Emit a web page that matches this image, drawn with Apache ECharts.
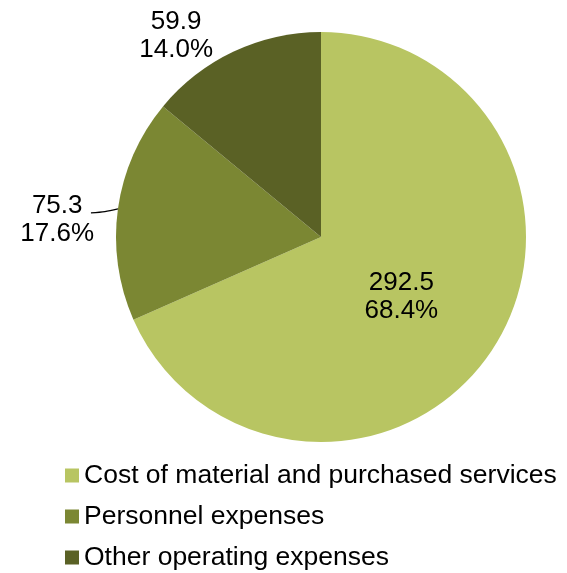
<!DOCTYPE html>
<html>
<head>
<meta charset="utf-8">
<script src="https://cdn.jsdelivr.net/npm/echarts@6/dist/echarts.min.js"></script>
<style>
html,body{margin:0;padding:0;background:#fff;}
#c{width:567px;height:573px;}
</style>
</head>
<body>
<div id="c"></div>
<script>
const categories = ['Cost of material and purchased services', 'Personnel expenses', 'Other operating expenses'];
const values = [292.5, 75.3, 59.9];
const colors = ['#B8C562', '#7B8733', '#5A6125'];

const FONT = '"Liberation Sans", Arial, sans-serif';
const labelRich = { a: { width: 76, align: 'center', fontSize: 26, lineHeight: 28, fontFamily: FONT, color: '#000' } };

const labelSettings = [
  { position: 'inside', padding: [4, 16, 0, 0] },
  { position: 'outside', distanceToLabelLine: -4, padding: [29, 0, 0, 0] },
  { position: 'outside', distanceToLabelLine: 0, padding: [4, 0, 0, 0] }
];
const lineSettings = [
  { show: false },
  { show: true, length: 27, length2: 0, smooth: 0.3, lineStyle: { color: '#000', width: 1.2 } },
  { show: false, length: 20, length2: 11 }
];

const data = categories.map((name, i) => ({
  name: name,
  value: values[i],
  itemStyle: { color: colors[i] },
  label: labelSettings[i],
  labelLine: lineSettings[i]
}));

const chart = echarts.init(document.getElementById('c'), null, { renderer: 'canvas' });
chart.setOption({
  backgroundColor: '#fff',
  animation: false,
  legend: {
    orient: 'vertical',
    left: 65,
    top: 462,
    height: 140,
    padding: 0,
    icon: 'rect',
    itemWidth: 14,
    itemHeight: 14,
    itemGap: 14,
    selectedMode: false,
    textStyle: { fontSize: 26.5, lineHeight: 22, fontFamily: FONT, color: '#000' },
    data: categories
  },
  series: [{
    type: 'pie',
    center: [321, 237],
    radius: 205,
    startAngle: 90,
    clockwise: true,
    avoidLabelOverlap: false,
    percentPrecision: 1,
    label: {
      show: true,
      formatter: p => '{a|' + p.value.toFixed(1) + '}\n{a|' + p.percent.toFixed(1) + '%}',
      rich: labelRich
    },
    labelLayout: function (p) {
      if (p.dataIndex === 1 && p.labelLinePoints) {
        const s = p.labelLinePoints[0];
        return { labelLinePoints: [s, [s[0] - 13, s[1] + 3], [s[0] - 27, s[1] + 4]] };
      }
      return {};
    },
    emphasis: { disabled: true },
    itemStyle: { borderWidth: 0 },
    data: data
  }]
});
</script>
</body>
</html>
